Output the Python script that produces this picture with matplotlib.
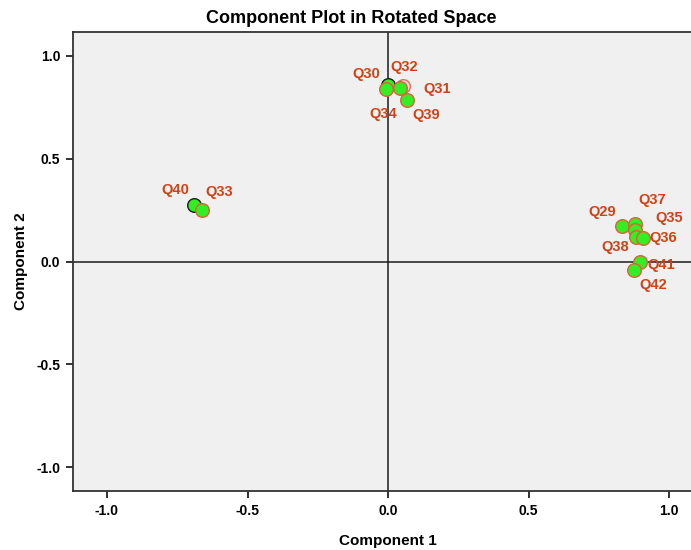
import matplotlib.pyplot as plt

# loadings on the two rotated components
items = ['Q30', 'Q40', 'Q32', 'Q31', 'Q34', 'Q39', 'Q33',
         'Q29', 'Q37', 'Q35', 'Q38', 'Q36', 'Q41', 'Q42']
comp1 = [-0.001, -0.689, 0.052, 0.044, -0.007, 0.068, -0.663,
         0.834, 0.877, 0.880, 0.883, 0.906, 0.898, 0.874]
comp2 = [0.859, 0.273, 0.854, 0.842, 0.838, 0.785, 0.252,
         0.172, 0.184, 0.151, 0.119, 0.116, -0.003, -0.039]

# label offsets in pixels from each point
lab_dx = {'Q30': -22, 'Q32': 2, 'Q31': 37, 'Q34': -3, 'Q39': 19, 'Q40': -19,
          'Q33': 17, 'Q29': -20, 'Q37': 18, 'Q35': 34, 'Q36': 20, 'Q38': -21,
          'Q41': 21, 'Q42': 20}
lab_dy = {'Q30': 11, 'Q32': 19, 'Q31': -1, 'Q34': -25, 'Q39': -15, 'Q40': 15,
          'Q33': 18, 'Q29': 14, 'Q37': 24, 'Q35': 12, 'Q36': 0, 'Q38': -10,
          'Q41': -3, 'Q42': -15}

plt.rcParams['font.family'] = ['Liberation Sans', 'DejaVu Sans']

fig = plt.figure(figsize=(6.91, 5.50), dpi=100)
ax = fig.add_axes([0.1056, 0.107, 0.912, 0.835])
ax.set_facecolor('#f0f0f0')

ax.axhline(0, color='#1a1a1a', lw=1.1, zorder=1)
ax.axvline(0, color='#1a1a1a', lw=1.1, zorder=1)

for i, q in enumerate(items):
	if q in ('Q30', 'Q40'):
		edge = '#1a1a1a'
		face = '#33ee22'
	elif q == 'Q32':
		edge = '#e86a5a'
		face = '#f6d8d4'
	else:
		edge = '#e0603a'
		face = '#33ee22'
	ax.plot(comp1[i], comp2[i], 'o', ms=9.8, mfc=face, mec=edge, mew=1.0, zorder=3 + i)
	ax.annotate(q, (comp1[i], comp2[i]), xytext=(lab_dx[q], lab_dy[q]),
		textcoords='offset pixels', ha='center', va='center',
		color='#cf4218', fontsize=10.5, fontweight='bold', zorder=30)

ax.set_xlim(-1.121, 1.121)
ax.set_ylim(-1.117, 1.117)
ax.set_xticks([-1.0, -0.5, 0.0, 0.5, 1.0])
ax.set_yticks([-1.0, -0.5, 0.0, 0.5, 1.0])
ax.set_xticklabels(['-1.0', '-0.5', '0.0', '0.5', '1.0'])
ax.set_yticklabels(['-1.0', '-0.5', '0.0', '0.5', '1.0'])
ax.tick_params(direction='out', length=5, width=1.3, color='#222222',
	labelsize=10, pad=4, top=False, right=False)
for t in ax.get_xticklabels() + ax.get_yticklabels():
	t.set_fontweight('bold')
for s in ax.spines.values():
	s.set_color('#333333')
	s.set_linewidth(1.3)

ax.set_xlabel('Component 1', fontsize=11, fontweight='bold', labelpad=12)
ax.set_ylabel('Component 2', fontsize=11, fontweight='bold', labelpad=6)
fig.text(0.509, 0.967, 'Component Plot in Rotated Space', ha='center', va='center',
	fontsize=13, fontweight='bold')

fig.savefig('out.png', dpi=100)
